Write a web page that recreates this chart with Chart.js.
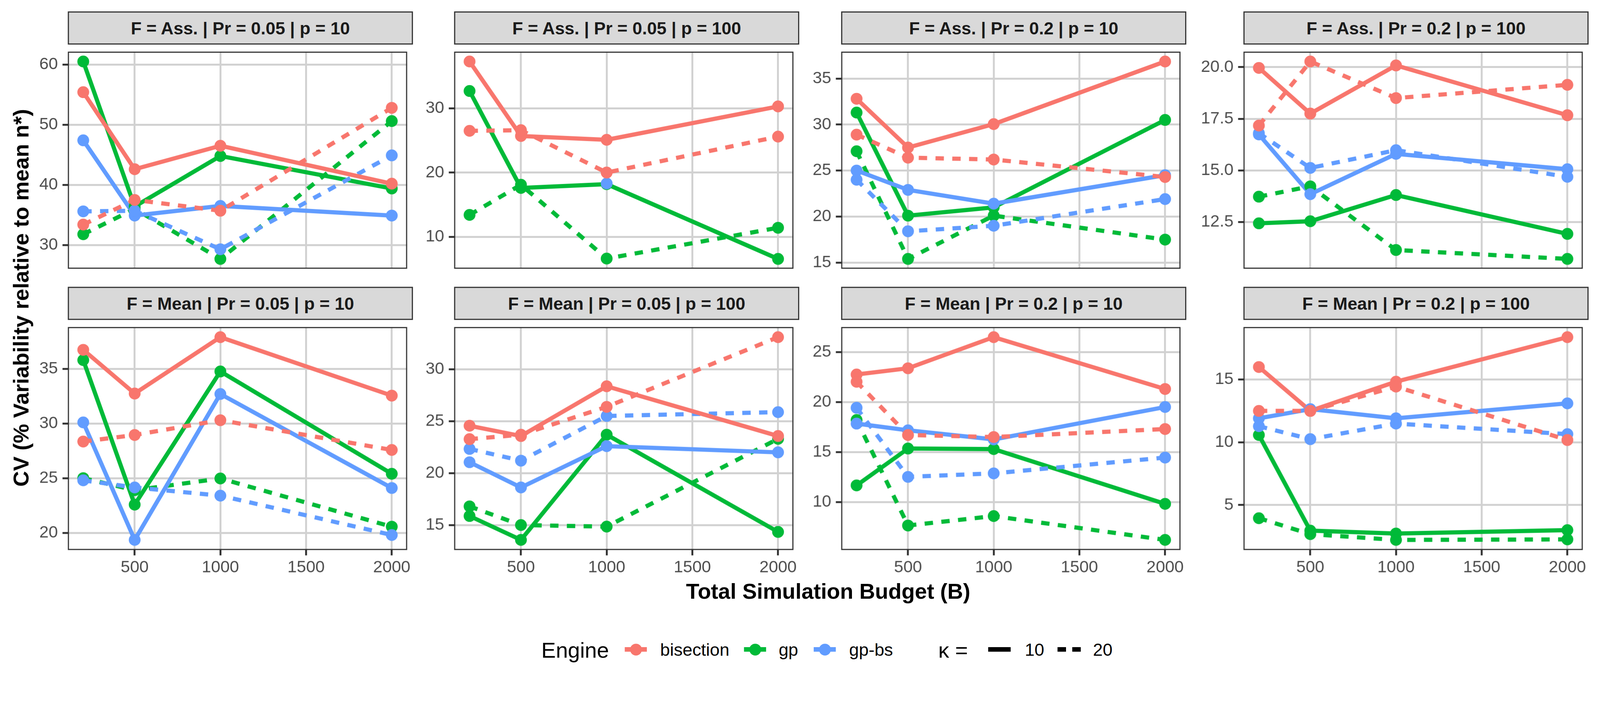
<!DOCTYPE html>
<html lang="en">
<head>
<meta charset="UTF-8">
<title>CV by Total Simulation Budget</title>
<script src="https://cdn.jsdelivr.net/npm/chart.js"></script>
<style>
    html, body { margin: 0; padding: 0; background: #fff; overflow: hidden; font-family: "Liberation Sans", Arial, sans-serif; }
    #page { position: relative; width: 4200px; height: 1800px; background: #fff; overflow: hidden; transform-origin: 0 0; }
    .strip {
        position: absolute; box-sizing: border-box; background: #d9d9d9; border: 3px solid #333;
        display: flex; align-items: center; justify-content: center;
        font-weight: bold; font-size: 46px; color: #1a1a1a; line-height: 1; white-space: nowrap;
    }
    canvas { position: absolute; }
    .txt { position: absolute; line-height: 1; white-space: nowrap; color: #000; }
    .dot { position: absolute; width: 31px; height: 31px; border-radius: 50%; }
    .bar { position: absolute; height: 12px; }
</style>
</head>
<body>
<div id="page"></div>

<script>
    // ---- data ----
    const budgets = [200, 500, 1000, 2000];
    const xTicks = [500, 1000, 1500, 2000];

    const panelTitles = [
        'F = Ass. | Pr = 0.05 | p = 10', 'F = Ass. | Pr = 0.05 | p = 100',
        'F = Ass. | Pr = 0.2 | p = 10', 'F = Ass. | Pr = 0.2 | p = 100',
        'F = Mean | Pr = 0.05 | p = 10', 'F = Mean | Pr = 0.05 | p = 100',
        'F = Mean | Pr = 0.2 | p = 10', 'F = Mean | Pr = 0.2 | p = 100'
    ];

    const yTicks = [
        [30, 40, 50, 60], [10, 20, 30], [15, 20, 25, 30, 35], [12.5, 15, 17.5, 20],
        [20, 25, 30, 35], [15, 20, 25, 30], [10, 15, 20, 25], [5, 10, 15]
    ];
    const yDecimals = [0, 0, 0, 1, 0, 0, 0, 0];

    // one row per panel, one value per budget
    const bisectionK10 = [
        [55.4, 42.6, 46.5, 40.2],
        [37.3, 25.7, 25.1, 30.3],
        [32.8, 27.5, 30.05, 36.85],
        [19.96, 17.75, 20.08, 17.67],
        [36.74, 32.74, 37.9, 32.55],
        [24.56, 23.57, 28.36, 23.57],
        [22.75, 23.37, 26.48, 21.3],
        [16.0, 12.5, 14.83, 18.38]
    ];
    const bisectionK20 = [
        [33.4, 37.5, 35.7, 52.8],
        [26.5, 26.6, 20.0, 25.6],
        [28.9, 26.4, 26.2, 24.3],
        [17.17, 20.27, 18.5, 19.14],
        [28.35, 28.95, 30.3, 27.58],
        [23.27, 23.7, 26.38, 33.09],
        [22.02, 16.7, 16.5, 17.3],
        [12.5, 12.5, 14.44, 10.18]
    ];
    const gpK10 = [
        [60.5, 36.4, 44.8, 39.4],
        [32.7, 17.6, 18.2, 6.55],
        [31.3, 20.1, 21.0, 30.5],
        [12.44, 12.54, 13.81, 11.93],
        [35.8, 22.58, 34.76, 25.4],
        [15.87, 13.57, 23.7, 14.34],
        [11.67, 15.35, 15.3, 9.82],
        [10.58, 2.96, 2.73, 3.0]
    ];
    const gpK20 = [
        [31.8, 36.0, 27.7, 50.6],
        [13.4, 18.1, 6.6, 11.4],
        [27.1, 15.4, 20.1, 17.5],
        [13.73, 14.23, 11.15, 10.72],
        [25.0, 23.9, 24.97, 20.56],
        [16.8, 15.0, 14.85, 23.3],
        [18.2, 7.66, 8.6, 6.22],
        [3.95, 2.68, 2.22, 2.26]
    ];
    const gpbsK10 = [
        [47.4, 34.9, 36.5, 34.9],
        [null, null, 18.3, null],
        [25.0, 22.9, 21.4, 24.5],
        [16.74, 13.85, 15.8, 15.06],
        [30.1, 19.35, 32.7, 24.1],
        [21.05, 18.62, 22.6, 22.0],
        [17.84, 17.17, 16.26, 19.5],
        [11.91, 12.64, 11.91, 13.1]
    ];
    const gpbsK20 = [
        [35.6, 35.7, 29.3, 44.9],
        [null, null, null, null],
        [24.0, 18.4, 19.0, 21.9],
        [16.8, 15.12, 15.98, 14.69],
        [24.8, 24.15, 23.4, 19.8],
        [22.33, 21.2, 25.5, 25.87],
        [19.42, 12.52, 12.87, 14.45],
        [11.28, 10.25, 11.49, 10.65]
    ];

    const engineColors = { 'bisection': '#F8766D', 'gp': '#00BA38', 'gp-bs': '#619CFF' };

    // drawing order, bottom first
    const series = [
        { engine: 'gp', kappa: 10, values: gpK10 },
        { engine: 'gp', kappa: 20, values: gpK20 },
        { engine: 'gp-bs', kappa: 10, values: gpbsK10 },
        { engine: 'gp-bs', kappa: 20, values: gpbsK20 },
        { engine: 'bisection', kappa: 10, values: bisectionK10 },
        { engine: 'bisection', kappa: 20, values: bisectionK20 }
    ];

    // ---- layout ----
    const FONT = '"Liberation Sans", Arial, sans-serif';
    const colLeft = [178, 1192, 2208, 3264];
    const rowTop = [120, 843];
    const panelW = 906;
    const panelH = 601;
    const axisW = 130;
    const xAxisH = 80;
    const page = document.getElementById('page');

    // fit the 4200x1800 drawing into whatever the viewport really is
    const fit = Math.min(window.innerWidth / 4200, window.innerHeight / 1800);
    page.style.transform = 'scale(' + fit + ')';
    const dpr = (window.devicePixelRatio || 1) * fit;

    const panelBorder = {
        id: 'panelBorder',
        afterDatasetsDraw(chart) {
            const { ctx, chartArea: a } = chart;
            ctx.save();
            ctx.strokeStyle = '#333';
            ctx.lineWidth = 3;
            ctx.strokeRect(a.left + 1.5, a.top + 1.5, a.width - 3, a.height - 3);
            ctx.restore();
        }
    };

    function addText(text, left, baseline, size, bold) {
        const d = document.createElement('div');
        d.className = 'txt';
        d.textContent = text;
        d.style.left = left + 'px';
        d.style.top = (baseline - 0.8465 * size) + 'px';
        d.style.fontSize = size + 'px';
        if (bold) d.style.fontWeight = 'bold';
        page.appendChild(d);
        return d;
    }

    function yRange(i) {
        const vals = series.flatMap(s => s.values[i]).filter(v => v !== null);
        const lo = Math.min(...vals), hi = Math.max(...vals);
        const pad = (hi - lo) * 0.05;
        return [lo - pad, hi + pad];
    }

    panelTitles.forEach((title, i) => {
        const row = i < 4 ? 0 : 1;
        const col = i % 4;
        const bottom = row === 1;

        const strip = document.createElement('div');
        strip.className = 'strip';
        strip.textContent = title;
        strip.style.left = colLeft[col] + 'px';
        strip.style.top = (rowTop[row] - 90) + 'px';
        strip.style.width = panelW + 'px';
        strip.style.height = '87px';
        page.appendChild(strip);

        const canvas = document.createElement('canvas');
        canvas.width = axisW + panelW;
        canvas.height = panelH + (bottom ? xAxisH : 0);
        canvas.style.left = (colLeft[col] - axisW) + 'px';
        canvas.style.top = rowTop[row] + 'px';
        page.appendChild(canvas);

        const lines = [], points = [];
        series.forEach((s, k) => {
            const pts = budgets.map((b, j) => ({ x: b, y: s.values[i][j] }));
            const color = engineColors[s.engine];
            lines.push({
                data: pts, showLine: true, borderColor: color, borderWidth: 11,
                borderDash: s.kappa === 20 ? [22, 22] : [], borderCapStyle: 'butt',
                borderJoinStyle: 'round', tension: 0, pointRadius: 0, fill: false,
                clip: 0, order: 100 - k
            });
            points.push({
                data: pts, showLine: false, pointRadius: 15.5, pointBorderWidth: 0,
                pointBackgroundColor: color, borderColor: color, clip: 0, order: 50 - k
            });
        });

        const [ymin, ymax] = yRange(i);
        const tickFont = { family: FONT, size: 44 };

        new Chart(canvas, {
            type: 'line',
            data: { datasets: lines.concat(points) },
            options: {
                responsive: false, animation: false, devicePixelRatio: dpr, events: [],
                layout: { padding: 0 },
                plugins: { legend: { display: false }, tooltip: { enabled: false } },
                scales: {
                    x: {
                        type: 'linear', min: 110, max: 2090,
                        afterBuildTicks: s => { s.ticks = xTicks.map(v => ({ value: v })); },
                        afterFit: s => { s.height = bottom ? xAxisH : 0; s.paddingLeft = 0; s.paddingRight = 0; },
                        border: { display: false },
                        grid: { color: '#d1d1d1', lineWidth: 5, drawTicks: bottom, tickLength: 14, tickColor: '#333', tickWidth: 5 },
                        ticks: { display: bottom, autoSkip: false, maxRotation: 0, padding: 6, color: '#4d4d4d', font: tickFont, callback: v => String(v) }
                    },
                    y: {
                        type: 'linear', min: ymin, max: ymax,
                        afterBuildTicks: s => { s.ticks = yTicks[i].map(v => ({ value: v })); },
                        afterFit: s => { s.width = axisW; s.paddingTop = 0; s.paddingBottom = 0; },
                        border: { display: false },
                        grid: { color: '#d1d1d1', lineWidth: 5, drawTicks: true, tickLength: 14, tickColor: '#333', tickWidth: 5 },
                        ticks: { autoSkip: false, padding: 12, color: '#4d4d4d', font: tickFont, callback: v => v.toFixed(yDecimals[i]) }
                    }
                }
            },
            plugins: [panelBorder]
        });
    });

    // ---- axis titles ----
    const xTitle = addText('Total Simulation Budget (B)', 0, 1572, 57, true);
    xTitle.style.left = '2174px';
    xTitle.style.transform = 'translateX(-50%)';

    const yTitle = document.createElement('div');
    yTitle.className = 'txt';
    yTitle.textContent = 'CV (% Variability relative to mean n*)';
    yTitle.style.fontSize = '57px';
    yTitle.style.fontWeight = 'bold';
    yTitle.style.left = '55px';
    yTitle.style.top = '782px';
    yTitle.style.transform = 'translate(-50%, -50%) rotate(-90deg)';
    page.appendChild(yTitle);

    // ---- legend ----
    const legendY = 1705;
    addText('Engine', 1421, 1727, 57, false);
    [['bisection', 1669, 1733], ['gp', 1982, 2044], ['gp-bs', 2165, 2229]].forEach(([name, cx, tx]) => {
        const bar = document.createElement('div');
        bar.className = 'bar';
        bar.style.background = engineColors[name];
        bar.style.left = (cx - 29) + 'px';
        bar.style.width = '58px';
        bar.style.top = (legendY - 6) + 'px';
        page.appendChild(bar);
        const dot = document.createElement('div');
        dot.className = 'dot';
        dot.style.background = engineColors[name];
        dot.style.left = (cx - 15.5) + 'px';
        dot.style.top = (legendY - 15.5) + 'px';
        page.appendChild(dot);
        addText(name, tx, 1722, 46, false);
    });

    addText('\u03BA =', 2463, 1727, 57, false);
    const solidKey = document.createElement('div');
    solidKey.className = 'bar';
    solidKey.style.background = '#000';
    solidKey.style.left = '2594px';
    solidKey.style.width = '59px';
    solidKey.style.top = (legendY - 6) + 'px';
    page.appendChild(solidKey);
    addText('10', 2690, 1722, 46, false);

    const dashKey = document.createElement('div');
    dashKey.className = 'bar';
    dashKey.style.background = 'repeating-linear-gradient(to right, #000 0 22px, transparent 22px 39px)';
    dashKey.style.left = '2776px';
    dashKey.style.width = '61px';
    dashKey.style.top = (legendY - 6) + 'px';
    page.appendChild(dashKey);
    addText('20', 2869, 1722, 46, false);
</script>
</body>
</html>
